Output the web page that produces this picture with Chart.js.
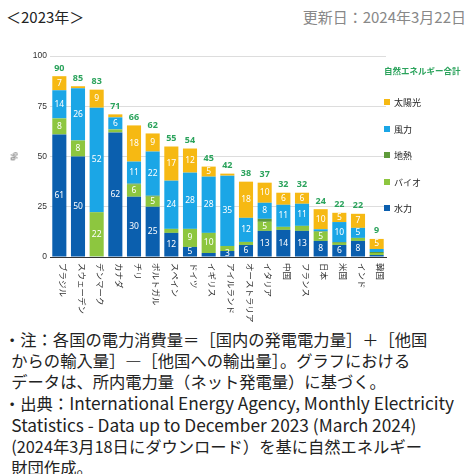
<!DOCTYPE html>
<html><head><meta charset="utf-8">
<script src="https://cdn.jsdelivr.net/npm/chart.js@4"></script>
<style>
body{margin:0;width:474px;height:474px;overflow:hidden;background:#fff;font-family:"Noto Sans CJK JP",sans-serif;color:#222;position:relative}
#title{position:absolute;left:6px;top:6px;font-size:15px}
#upd{position:absolute;right:8px;top:6px;font-size:15px;color:#888}
#wrap{position:absolute;left:0;top:48px;width:474px;height:275px}
#pct{position:absolute;left:10px;top:150px;font-size:9px;color:#333;transform:rotate(90deg)}
#legend{position:absolute;left:384px;top:64px;font-size:9px}
#legend .t{color:#2ba35c;font-weight:bold;font-size:8.5px;margin-bottom:20px}
#legend .i{height:26.5px;display:flex;align-items:flex-start}
#legend .s{width:6px;height:6px;margin:3px 4px 0 0}
#notes{position:absolute;left:4px;top:329px;width:470px;font-size:16.3px;line-height:21px;white-space:nowrap}
#notes .l{font-size:17.3px}
</style></head><body>
<div id="title">＜2023年＞</div>
<div id="upd">更新日：2024年3月22日</div>
<div id="wrap"><canvas id="c"></canvas></div>
<div id="pct">%</div>
<div id="legend"></div>
<div id="notes">・注：各国の電力消費量＝［国内の発電電力量］＋［他国<br>&nbsp;&nbsp;からの輸入量］―［他国への輸出量］。グラフにおける<br>&nbsp;&nbsp;データは、所内電力量（ネット発電量）に基づく。<br>・出典：<span class="l">International Energy Agency, Monthly Electricity</span><br>&nbsp;&nbsp;<span class="l">Statistics - Data up to December 2023 (March 2024)</span><br>&nbsp;&nbsp;(2024年3月18日にダウンロード）を基に自然エネルギー<br>&nbsp;&nbsp;財団作成。</div>
<script>
const countries=["ブラジル","スウェーデン","デンマーク","カナダ","チリ","ポルトガル","スペイン","ドイツ","イギリス","アイルランド","オーストラリア","イタリア","中国","フランス","日本","米国","インド","韓国"];
const hydro=[61,50,0.3,62,30,25,12,5,2,3,6,13,13.5,13,8,6,8,1];
const bio=[8,8,22,1.5,6,5,2,9,10,2.5,1.5,4.5,1.5,2.5,4.5,1,1.5,1];
const geo=[0,0,0,0,0.5,0.5,0,0,0,0,0,1.5,0,0,0.3,0.4,0,0.5];
const wind=[14,26,52,6,11,22,24,28,28,35,12,8,11,11,1,10,5,1.5];
const solar=[7,1,9,1.5,18,9,17,12,5,1,18,10,6,5.5,10,4.6,7,5];
const totals=[90,85,83,71,66,62,55,54,45,42,38,37,32,32,24,22,22,9];
const yTicks=[0,25,50,75,100];
const series=[
 {label:"水力",data:hydro,color:"#0b5fae"},
 {label:"バイオ",data:bio,color:"#8dc63f"},
 {label:"地熱",data:geo,color:"#5e9a3a"},
 {label:"風力",data:wind,color:"#1ba6e6"},
 {label:"太陽光",data:solar,color:"#f6b913"}];
const lg=document.getElementById('legend');
lg.innerHTML='<div class="t">自然エネルギー合計</div>'+series.slice().reverse().map(s=>`<div class="i"><div class="s" style="background:${s.color}"></div>${s.label}</div>`).join('');
const labelPlugin={id:'lbl',afterDatasetsDraw(ch){
 const c=ch.ctx;const xs=ch.scales.x;const ys=ch.scales.y;
 c.save();c.textAlign='center';c.textBaseline='middle';
 ch.data.datasets.forEach((ds,di)=>{const m=ch.getDatasetMeta(di);
  m.data.forEach((b,i)=>{const v=ds.data[i];if(v>=3){c.fillStyle='#fff';c.font='8.5px "Noto Sans"';c.fillText(Math.round(v),b.x,(b.y+b.base)/2);}});});
 c.fillStyle='#2ba35c';c.font='bold 9px "Noto Sans"';
 totals.forEach((t,i)=>{const top=hydro[i]+bio[i]+geo[i]+wind[i]+solar[i];c.fillText(t,xs.getPixelForValue(i),ys.getPixelForValue(top)-8);});
 c.fillStyle='#333';c.font='8.5px "Noto Sans CJK JP"';c.textAlign='left';
 countries.forEach((n,i)=>{c.save();c.translate(xs.getPixelForValue(i)+4,ys.bottom+6);c.rotate(Math.PI/2);c.fillText(n,0,0);c.restore();});
 c.restore();}};
new Chart(document.getElementById('c'),{type:'bar',
 data:{labels:countries,datasets:series.map(s=>({label:s.label,data:s.data,backgroundColor:s.color,categoryPercentage:0.82,barPercentage:0.92}))},
 options:{responsive:true,maintainAspectRatio:false,animation:false,
  layout:{padding:{top:8,right:88,bottom:58,left:0}},
  plugins:{legend:{display:false},tooltip:{enabled:false}},
  scales:{x:{stacked:true,ticks:{display:false},grid:{display:false},border:{color:'#333'}},
   y:{stacked:true,min:0,max:100,afterFit(s){s.width=50;},afterBuildTicks(s){s.ticks=yTicks.map(v=>({value:v}));},
    ticks:{font:{size:8.5},color:'#333'},grid:{color:'#ddd',drawTicks:false},border:{display:false}}}},
 plugins:[labelPlugin]});
</script></body></html>
